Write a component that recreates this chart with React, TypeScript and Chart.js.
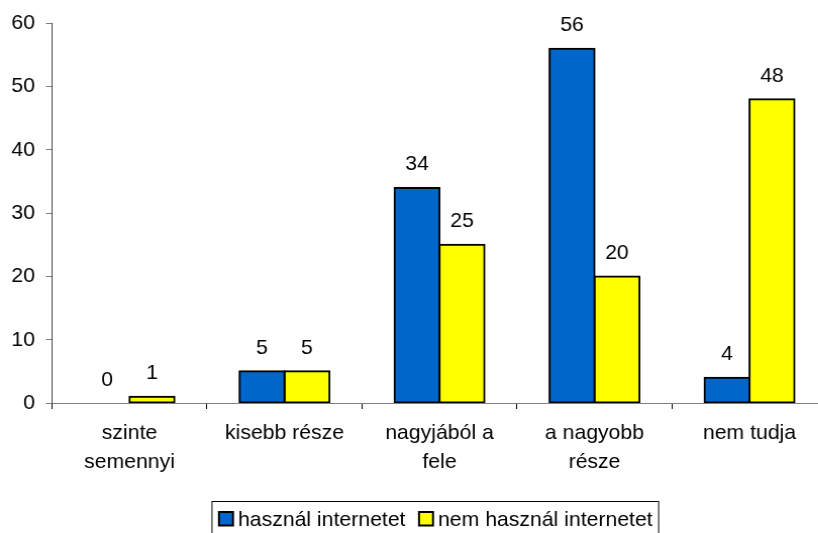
import React, { useEffect, useRef } from "react";
import { Chart, registerables } from "chart.js";

Chart.register(...registerables);

// ---- data ----
const categories: (string | string[])[] = [
  ["szinte", "semennyi"],
  "kisebb része",
  ["nagyjából a", "fele"],
  ["a nagyobb", "része"],
  "nem tudja",
];
const seriesNames = ["használ internetet", "nem használ internetet"];
const usersValues = [0, 5, 34, 56, 4];
const nonUsersValues = [1, 5, 25, 20, 48];
const yMin = 0;
const yMax = 60;
const yStep = 10;

// ---- style ----
const SX = 1.01;
const FS = 21;
const FONT = '"Liberation Sans", Arial, sans-serif';
const BLUE = "#0066CC";
const YELLOW = "#FFFF00";
const INNER_W = Math.round(840 / SX);
const PLOT_LEFT = 52 / SX;
const PLOT_RIGHT = 827 / SX;

export default function App() {
  const ref = useRef<HTMLCanvasElement>(null);

  useEffect(() => {
    const valueLabels = {
      id: "valueLabels",
      afterDatasetsDraw(chart: any) {
        const ctx = chart.ctx;
        ctx.save();
        ctx.font = `${FS}px ${FONT}`;
        ctx.fillStyle = "#000";
        ctx.textAlign = "center";
        ctx.textBaseline = "alphabetic";
        chart.data.datasets.forEach((ds: any, i: number) => {
          const meta = chart.getDatasetMeta(i);
          meta.data.forEach((el: any, j: number) => {
            ctx.fillText(String(ds.data[j]), el.x, el.y - 17.5);
          });
        });
        ctx.restore();
      },
    };

    const boxLegend = {
      id: "boxLegend",
      afterDraw(chart: any) {
        const ctx = chart.ctx;
        ctx.save();
        ctx.font = `${FS}px ${FONT}`;
        const left = 212 / SX;
        const top = 501.5;
        const sq = 14 / SX;
        const colors = [BLUE, YELLOW];
        let x = 219 / SX;
        const gapText = 5 / SX;
        const gapItem = 13.6 / SX;
        const items: { sx: number; tx: number }[] = [];
        seriesNames.forEach((name) => {
          const sx = x;
          const tx = sx + sq + gapText;
          const w = ctx.measureText(name).width;
          items.push({ sx, tx });
          x = tx + w + gapItem;
        });
        const right = x - gapItem + 6 / SX;
        ctx.strokeStyle = "#000";
        ctx.lineWidth = 1;
        ctx.strokeRect(left, top, right - left, 60);
        seriesNames.forEach((name, i) => {
          const it = items[i];
          ctx.fillStyle = colors[i];
          ctx.fillRect(it.sx, 512, sq, 13.5);
          ctx.lineWidth = 2;
          ctx.strokeStyle = "#000";
          ctx.strokeRect(it.sx, 512, sq, 13.5);
          ctx.fillStyle = "#000";
          ctx.textAlign = "left";
          ctx.textBaseline = "alphabetic";
          ctx.fillText(name, it.tx, 526);
        });
        ctx.restore();
      },
    };

    const chart = new Chart(ref.current as HTMLCanvasElement, {
      type: "bar",
      data: {
        labels: categories as any,
        datasets: [
          {
            label: seriesNames[0],
            data: usersValues,
            backgroundColor: BLUE,
            borderColor: "#000",
            borderWidth: 2,
            borderSkipped: false,
            inflateAmount: 1,
            categoryPercentage: 0.58,
            barPercentage: 1,
          } as any,
          {
            label: seriesNames[1],
            data: nonUsersValues,
            backgroundColor: YELLOW,
            borderColor: "#000",
            borderWidth: 2,
            borderSkipped: false,
            inflateAmount: 1,
            categoryPercentage: 0.58,
            barPercentage: 1,
          } as any,
        ],
      },
      options: {
        animation: false,
        responsive: true,
        maintainAspectRatio: false,
        events: [],
        layout: {
          padding: { top: 20, right: INNER_W - PLOT_RIGHT, bottom: 0, left: 0 },
        },
        plugins: {
          legend: { display: false },
          tooltip: { enabled: false },
          title: { display: false },
        },
        scales: {
          x: {
            type: "category",
            offset: true,
            grid: {
              display: true,
              drawOnChartArea: false,
              drawTicks: true,
              tickLength: 6,
              color: "#000",
              offset: true,
            },
            border: { display: true, color: "#808080", width: 1 },
            ticks: {
              color: "#000",
              font: { family: FONT, size: FS, lineHeight: 29 / FS },
              padding: 9.5,
              maxRotation: 0,
              autoSkip: false,
            },
            afterFit: (s: any) => {
              s.height = 130;
            },
          },
          y: {
            min: yMin,
            max: yMax,
            grid: {
              display: true,
              drawOnChartArea: false,
              drawTicks: true,
              tickLength: 6,
              color: "#808080",
            },
            border: { display: true, color: "#404040", width: 1 },
            ticks: {
              stepSize: yStep,
              color: "#000",
              font: { family: FONT, size: FS },
              padding: (52 - 35) / SX - 6,
            },
            afterFit: (s: any) => {
              s.width = PLOT_LEFT;
            },
          },
        },
      },
      plugins: [valueLabels, boxLegend],
    });
    return () => chart.destroy();
  }, []);

  return (
    <div
      style={{
        position: "fixed",
        left: 0,
        top: 0,
        width: 818,
        height: 533,
        overflow: "hidden",
        background: "#fff",
      }}
    >
      <div
        style={{
          width: INNER_W,
          height: 533,
          transform: `scaleX(${SX})`,
          transformOrigin: "0 0",
        }}
      >
        <canvas ref={ref} />
      </div>
    </div>
  );
}
